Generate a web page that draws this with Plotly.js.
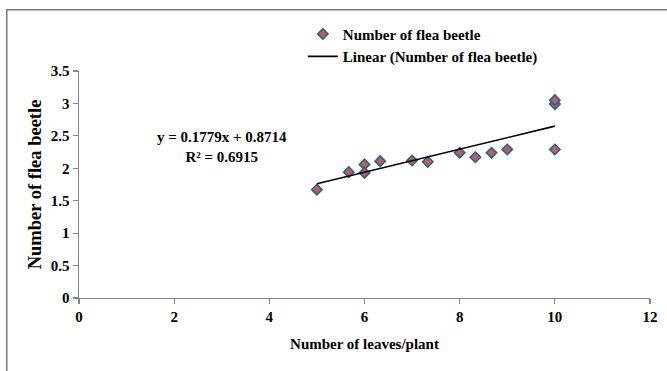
<!DOCTYPE html>
<html>
<head>
<meta charset="utf-8">
<script src="https://cdn.plot.ly/plotly-3.0.1.min.js"></script>
<style>html,body{margin:0;padding:0;background:#fff;}#chart{width:667px;height:371px;}</style>
</head>
<body>
<div id="chart"></div>
<script>
// Data
const leavesPerPlant = [5, 5.67, 6, 6, 6.33, 7, 7.33, 8, 8.33, 8.67, 9, 10, 10, 10];
const fleaBeetles    = [1.67, 1.94, 2.06, 1.93, 2.11, 2.12, 2.10, 2.24, 2.17, 2.24, 2.29, 2.29, 2.99, 3.05];
const trendSlope = 0.1779;
const trendIntercept = 0.8714;
const trendR2 = 0.6915;
const trendRange = [5, 10];
const xTicks = [0, 2, 4, 6, 8, 10, 12];
const yTicks = [0, 0.5, 1, 1.5, 2, 2.5, 3, 3.5];
const yTickText = ['0', '0.5', '1', '1.5', '2', '2.5', '3', '3.5'];

const trendY = trendRange.map(x => trendSlope * x + trendIntercept);
const FONT = 'Liberation Serif, Times New Roman, serif';

const traces = [
  {
    x: leavesPerPlant, y: fleaBeetles, type: 'scatter', mode: 'markers',
    name: 'Number of flea beetle', legendgroup: 'a',
    marker: {symbol: 'diamond', size: 8, color: '#b5625c', line: {color: '#2e5f8e', width: 1.6}}
  },
  {
    x: trendRange, y: trendY, type: 'scatter', mode: 'lines',
    name: 'Linear (Number of flea beetle)', legendgroup: 'b',
    line: {color: '#000000', width: 1.6}
  }
];

const axisCommon = {
  showgrid: false, zeroline: false, showline: true, linecolor: '#868686', linewidth: 1.4,
  ticks: 'outside', ticklen: 5, tickcolor: '#868686', tickwidth: 1.2,
  tickfont: {family: FONT, size: 15, color: '#000', weight: 'bold'}
};

const layout = {
  width: 667, height: 371,
  margin: {l: 79, r: 17, t: 71, b: 73},
  paper_bgcolor: '#fff', plot_bgcolor: '#fff',
  font: {family: FONT, color: '#000'},
  showlegend: true,
  legend: {
    x: 0.392, y: 1.235, xanchor: 'left', yanchor: 'top',
    font: {family: FONT, size: 15, color: '#000', weight: 'bold'},
    traceorder: 'grouped', tracegroupgap: 0, bgcolor: 'rgba(0,0,0,0)'
  },
  xaxis: Object.assign({}, axisCommon, {
    range: [0, 12], tickvals: xTicks, ticktext: xTicks.map(String),
    title: {text: 'Number of leaves/plant', font: {family: FONT, size: 15, color: '#000', weight: 'bold'}, standoff: 14}
  }),
  yaxis: Object.assign({}, axisCommon, {
    range: [0, 3.5], tickvals: yTicks, ticktext: yTickText,
    title: {text: 'Number of flea beetle', font: {family: FONT, size: 18.5, color: '#000', weight: 'bold'}, standoff: 4}
  }),
  annotations: [{
    x: 3.0, y: 2.33, xref: 'x', yref: 'y', showarrow: false,
    text: 'y = 0.1779x + 0.8714<br>R² = ' + trendR2,
    font: {family: FONT, size: 15, color: '#000', weight: 'bold'}, align: 'center'
  }],
  shapes: [{
    type: 'rect', xref: 'paper', yref: 'paper',
    x0: -0.1265, x1: 1.3, y0: -0.6, y1: 1.27,
    line: {color: '#7a7a7a', width: 1.5}, layer: 'below'
  }]
};

Plotly.newPlot('chart', traces, layout, {displayModeBar: false, staticPlot: true});
</script>
</body>
</html>
